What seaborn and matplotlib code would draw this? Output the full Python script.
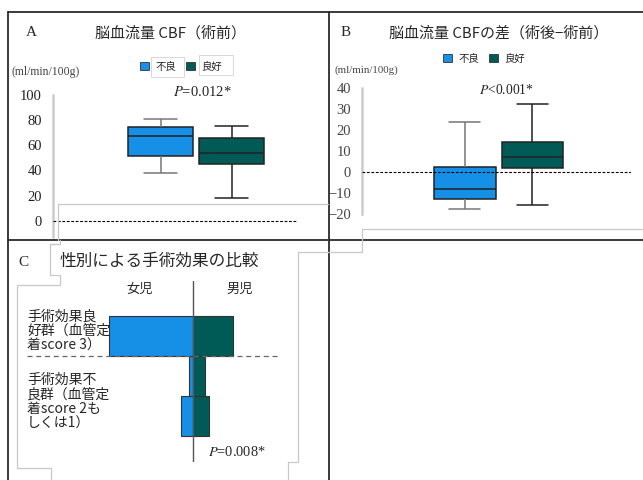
"""
CBF before surgery / CBF change, and sex comparison of surgical effect.
Three-panel composite redrawn with seaborn on fixed axes.
"""

import numpy as np
import pandas as pd
import matplotlib
matplotlib.use("Agg")
import matplotlib.pyplot as plt
from matplotlib.lines import Line2D
from matplotlib.patches import Patch, Rectangle
import seaborn as sns

sns.set_theme(style="white")
plt.rcParams["font.family"] = ["Noto Sans CJK JP", "DejaVu Sans"]
plt.rcParams["mathtext.fontset"] = "stix"

W, H = 643, 480
BLUE = "#1690E6"
GREEN = "#005B57"
SERIF = ["Liberation Serif", "DejaVu Serif"]

# ── Data ─────────────────────────────────────────────────────────────────────
GROUPS = ["不良", "良好"]
# five-number summaries: min, q1, median, q3, max
cbf_pre_poor = [38, 51.5, 67, 74, 80.5]
cbf_pre_good = [18, 45, 54, 65.5, 75.5]
cbf_diff_poor = [-17.7, -12.7, -8.2, 2.1, 23.5]
cbf_diff_good = [-15.5, 1.9, 7.3, 14.3, 32.2]
ticks_pre = [0, 20, 40, 60, 80, 100]
ticks_diff = [-20, -10, 0, 10, 20, 30, 40]

SEX = ["女児", "男児"]
ROWS = ["score 3", "score 2", "score 1"]
girls = [21, 1, 3]
boys = [10, 3, 4]
ROW_LABELS = ["手術効果良\n好群（血管定\n着score 3）",
              "手術効果不\n良群（血管定\n着score 2も\nしくは1）"]


def fx(x):
    return x / W


def fy(y):
    return 1 - y / H


def fline(xs, ys, **kw):
    fig.add_artist(Line2D([fx(x) for x in xs], [fy(y) for y in ys],
                          transform=fig.transFigure, **kw))


def add_axes_px(left, top, right, bottom):
    return fig.add_axes([fx(left), fy(bottom), (right - left) / W, (bottom - top) / H])


fig = plt.figure(figsize=(W / 100, H / 100), dpi=100)


def box_panel(ax, poor, good, ylim, yticks, xlim, tick_color):
    df = pd.DataFrame({"group": np.repeat(GROUPS, 5), "value": poor + good})
    sns.boxplot(data=df, x="group", y="value", hue="group", palette=[BLUE, GREEN],
                saturation=1, width=0.91, whis=(0, 100), linecolor="#222222",
                linewidth=1.1, legend=False, ax=ax)
    # whiskers and caps of the first box are drawn lighter
    for ln in ax.lines[:4]:
        ln.set_color("#777777")
    ax.axhline(0, color="black", linewidth=0.8, linestyle=(0, (2.5, 1.5)), zorder=5)
    ax.set_xlim(*xlim)
    ax.set_ylim(*ylim)
    ax.set_yticks(yticks)
    ax.set_xticks([])
    ax.set_xlabel("")
    ax.set_ylabel("")
    for s in ["top", "right", "bottom"]:
        ax.spines[s].set_visible(False)
    ax.spines["left"].set_color("#cccccc")
    ax.spines["left"].set_linewidth(1.8)
    ax.tick_params(axis="y", length=0, pad=8, labelsize=10.5, labelcolor=tick_color)
    for lbl in ax.get_yticklabels():
        lbl.set_fontfamily(SERIF)
    ax.patch.set_alpha(0)


# ── Panel A ──────────────────────────────────────────────────────────────────
axA = add_axes_px(53, 94.5, 297, 237)
box_panel(axA, cbf_pre_poor, cbf_pre_good, (-12.6, 100), ticks_pre, (-1.514, 1.92), "#222222")

# ── Panel B ──────────────────────────────────────────────────────────────────
axB = add_axes_px(362, 87.7, 631, 214)
box_panel(axB, cbf_diff_poor, cbf_diff_good, (-20, 40), ticks_diff, (-1.515, 2.453), "#444444")

handles = [Patch(facecolor=BLUE, edgecolor="#333333", linewidth=0.6),
           Patch(facecolor=GREEN, edgecolor="#333333", linewidth=0.6)]
# label boxes behind the panel A legend
for x0, y0, x1, y1 in [(151, 57, 184, 77), (199, 55, 233, 75)]:
    fig.add_artist(Rectangle((fx(x0), fy(y1)), (x1 - x0) / W, (y1 - y0) / H,
                             transform=fig.transFigure, facecolor="white",
                             edgecolor="#d8d8d8", linewidth=0.7))
for cx, cy in [(181, 66.5), (484, 58.5)]:
    fig.legend(handles, GROUPS, loc="center", bbox_to_anchor=(fx(cx), fy(cy)), ncol=2,
               frameon=False, fontsize=7.5, handlelength=0.85, handleheight=0.85,
               handletextpad=0.6, columnspacing=1.0, borderpad=0, borderaxespad=0)

fig.text(fx(46), fy(72), "(ml/min/100g)", fontsize=8.5, family=SERIF, color="#444444",
         ha="center", va="center")
fig.text(fx(366), fy(70.5), "(ml/min/100g)", fontsize=7.8, family=SERIF, color="#444444",
         ha="center", va="center")
fig.text(fx(202), fy(92), r"$P$=0.012*", fontsize=10.5, family=SERIF, ha="center", va="center")
fig.text(fx(506), fy(90.5), r"$P$<0.001*", fontsize=9.8, family=SERIF, ha="center", va="center")

fig.text(fx(31), fy(33), "A", fontsize=11, family=SERIF, ha="center", va="center")
fig.text(fx(346), fy(33), "B", fontsize=11, family=SERIF, ha="center", va="center")
fig.text(fx(170.5), fy(33), "脳血流量 CBF（術前）", fontsize=10.8, ha="center", va="center")
fig.text(fx(499), fy(33), "脳血流量 CBFの差（術後−術前）", fontsize=10.8, ha="center", va="center")

# ── Panel C ──────────────────────────────────────────────────────────────────
axC = add_axes_px(27, 281, 300, 462)
sns.barplot(x=[-v for v in girls], y=ROWS, orient="h", width=1.0, color=BLUE,
            edgecolor="#333333", linewidth=0.8, saturation=1, ax=axC)
sns.barplot(x=boys, y=ROWS, orient="h", width=1.0, color=GREEN,
            edgecolor="#333333", linewidth=0.8, saturation=1, ax=axC)
axC.axvline(0, color="#555555", linewidth=1.0, zorder=5)
axC.axhline(0.5, xmin=0, xmax=0.927, color="#666666", linewidth=0.9,
            linestyle=(0, (4, 3)), zorder=4)
axC.set_xlim(-41.575, 26.675)
axC.set_ylim(3.1425, -1.3825)
axC.set_xticks([])
axC.set_yticks([])
axC.set_xlabel("")
axC.set_ylabel("")
for s in axC.spines.values():
    s.set_visible(False)
axC.patch.set_alpha(0)

fig.text(fx(140), fy(289), SEX[0], fontsize=9.5, ha="center", va="center")
fig.text(fx(240), fy(289), SEX[1], fontsize=9.5, ha="center", va="center")
fig.text(fx(27), fy(331), ROW_LABELS[0], fontsize=10, ha="left", va="center", linespacing=1.05)
fig.text(fx(27), fy(401.5), ROW_LABELS[1], fontsize=10, ha="left", va="center", linespacing=1.05)
fig.text(fx(237), fy(452), r"$P$=0.008*", fontsize=10.4, family=SERIF, ha="center", va="center")
fig.text(fx(23), fy(262), "C", fontsize=11, family=SERIF, ha="center", va="center")
fig.text(fx(159), fy(261.7), "性別による手術効果の比較", fontsize=12, ha="center", va="center")

# ── Panel frames and stray box outlines ─────────────────────────────────────
frame = dict(color="#2b2b2b", linewidth=1.3)
fline([8, 643], [12.3, 12.3], **frame)
fline([8, 643], [240, 240], **frame)
fline([8.3, 8.3], [12.3, 480], **frame)
fline([328.8, 328.8], [12.3, 480], **frame)

grey = dict(color="#c8c8c8", linewidth=0.9)
fline([58, 58, 328], [240, 204, 204], **grey)
fline([643, 362, 362, 298, 298, 288, 288], [229, 229, 251.7, 251.7, 462, 462, 480], **grey)
fline([50, 60, 60], [244, 244, 240], **grey)
fline([60, 50, 50, 60, 60, 17, 17, 51, 51], [244, 244, 275, 275, 285, 285, 468, 468, 480], **grey)

plt.savefig("out.png", dpi=100)
